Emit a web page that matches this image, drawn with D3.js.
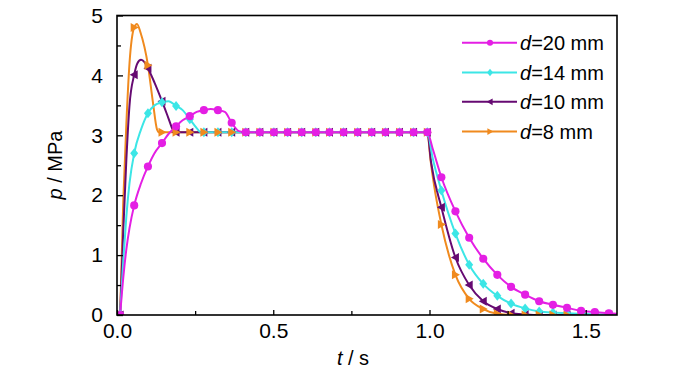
<!DOCTYPE html>
<html>
<head>
<meta charset="utf-8">
<script src="https://cdn.jsdelivr.net/npm/d3@7"></script>
<style>
  html, body { margin: 0; padding: 0; background: #fff; }
  svg { display: block; }
  text { font-family: "Liberation Sans", Arial, sans-serif; fill: #000; }
</style>
</head>
<body>
<div id="chart"></div>
<script>
// ---------------- data ----------------
const xTicks = [0.0, 0.5, 1.0, 1.5];
const xTickLabels = ["0.0", "0.5", "1.0", "1.5"];
const yTicks = [0, 1, 2, 3, 4, 5];
const yTickLabels = ["0", "1", "2", "3", "4", "5"];

const seriesLabels = ["20", "14", "10", "8"];
const seriesColors = ["#E41FE4", "#3CE6E6", "#660A72", "#F08A1E"];
const seriesMarkers = ["circle", "diamond", "triLeft", "triRight"];

// times at which markers are drawn (s)
const markerTimes = [0.010, 0.055, 0.099, 0.144, 0.189, 0.233, 0.278, 0.323, 0.367, 0.412,
  0.457, 0.502, 0.546, 0.591, 0.636, 0.680, 0.725, 0.770, 0.815, 0.859,
  0.904, 0.949, 0.993, 1.038, 1.083, 1.127, 1.172, 1.217, 1.261, 1.306,
  1.351, 1.395, 1.440, 1.485, 1.529, 1.574];

// pressure (MPa) at marker times
const pD20 = [0, 1.83, 2.48, 2.87, 3.15, 3.32, 3.42, 3.42, 3.21, 3.05,
  3.05, 3.05, 3.05, 3.05, 3.05, 3.05, 3.05, 3.05, 3.05, 3.05,
  3.05, 3.05, 3.05, 2.30, 1.73, 1.29, 0.94, 0.67, 0.47, 0.34,
  0.23, 0.17, 0.12, 0.07, 0.05, 0.03];
const pD14 = [0, 2.70, 3.37, 3.55, 3.49, 3.27, 3.05, 3.05, 3.05, 3.05,
  3.05, 3.05, 3.05, 3.05, 3.05, 3.05, 3.05, 3.05, 3.05, 3.05,
  3.05, 3.05, 3.05, 2.08, 1.36, 0.84, 0.52, 0.32, 0.19, 0.11,
  0.06, 0.04, 0.03, 0.02, 0.01, 0.01];
const pD10 = [0, 4.01, 4.12, 3.57, 3.05, 3.05, 3.05, 3.05, 3.05, 3.05,
  3.05, 3.05, 3.05, 3.05, 3.05, 3.05, 3.05, 3.05, 3.05, 3.05,
  3.05, 3.05, 3.05, 1.80, 0.96, 0.50, 0.23, 0.10, 0.03, 0.01,
  0, 0, 0, 0, 0, 0];
const pD8 = [0, 4.80, 4.17, 3.05, 3.05, 3.05, 3.05, 3.05, 3.05, 3.05,
  3.05, 3.05, 3.05, 3.05, 3.05, 3.05, 3.05, 3.05, 3.05, 3.05,
  3.05, 3.05, 3.05, 1.51, 0.67, 0.27, 0.10, 0.02, 0,
  0, 0, 0, 0, 0, 0, 0];

// additional curve points between markers [t, p]
const extraD20 = [[0.02, 0.62], [0.03, 1.1], [0.04, 1.45], [0.077, 2.2], [0.12, 2.7],
  [0.166, 3.03], [0.21, 3.25], [0.255, 3.39], [0.30, 3.44], [0.345, 3.39],
  [0.39, 3.07], [1.01, 2.78], [1.6, 0.02]];
const extraD14 = [[0.02, 0.9], [0.03, 1.65], [0.04, 2.2], [0.077, 3.1], [0.12, 3.5],
  [0.165, 3.57], [0.21, 3.42], [0.255, 3.12], [0.268, 3.05], [1.01, 2.62], [1.6, 0.01]];
const extraD10 = [[0.02, 1.4], [0.03, 2.6], [0.04, 3.5], [0.065, 4.2], [0.077, 4.26],
  [0.088, 4.22], [0.12, 3.88], [0.165, 3.28], [0.178, 3.1], [1.005, 2.55], [1.6, 0]];
const extraD8 = [[0.02, 1.9], [0.03, 3.2], [0.04, 4.2], [0.064, 4.86], [0.075, 4.72],
  [0.115, 3.55], [0.128, 3.1], [0.135, 3.05], [1.003, 2.6], [1.015, 2.15], [1.6, 0]];

const markerValues = [pD20, pD14, pD10, pD8];
const extraPoints = [extraD20, extraD14, extraD10, extraD8];

// ---------------- chart ----------------
const W = 700, H = 375;
const svg = d3.select("#chart").append("svg").attr("width", W).attr("height", H);

const x = d3.scaleLinear().domain([0, 1.6]).range([117, 617]);
const y = d3.scaleLinear().domain([0, 5]).range([315, 15.5]);

const series = seriesLabels.map((lab, i) => {
  const marks = markerTimes.map((t, k) => [t, markerValues[i][k]]);
  const line = marks.concat(extraPoints[i]).sort((a, b) => a[0] - b[0]);
  return { label: lab, color: seriesColors[i], marker: seriesMarkers[i], marks, line };
});

svg.append("defs").append("clipPath").attr("id", "clip")
  .append("rect").attr("x", x(0)).attr("y", y(5.0)).attr("width", x(1.6) - x(0)).attr("height", y(0) - y(5));

const lineGen = d3.line().x(d => x(d[0])).y(d => y(d[1])).curve(d3.curveMonotoneX);

function markerPath(type) {
  if (type === "circle") return d3.symbol().type(d3.symbolCircle).size(52)();
  if (type === "diamond") return "M0,-5L4,0L0,5L-4,0Z";
  if (type === "triLeft") return "M-4.5,0L3.5,-4.5L3.5,4.5Z";
  return "M4.5,0L-3.5,-4.5L-3.5,4.5Z";
}

const plot = svg.append("g").attr("clip-path", "url(#clip)");
// lines: orange first, magenta last
[3, 2, 1, 0].forEach(i => {
  const s = series[i];
  plot.append("path").datum(s.line)
    .attr("d", lineGen).attr("fill", "none")
    .attr("stroke", s.color).attr("stroke-width", 2);
});
// markers
[2, 1, 3, 0].forEach(i => {
  const s = series[i];
  plot.append("g").selectAll("path").data(s.marks).join("path")
    .attr("transform", d => `translate(${x(d[0])},${y(d[1])})`)
    .attr("d", markerPath(s.marker))
    .attr("fill", s.color);
});

// axes (ticks inside)
const axisColor = "#000";
const xAxis = d3.axisBottom(x).tickValues(xTicks).tickFormat((d, i) => xTickLabels[i])
  .tickSizeInner(-5).tickSizeOuter(0).tickPadding(10);
const gx = svg.append("g").attr("transform", `translate(0,${y(0)})`).call(xAxis);
gx.select(".domain").remove();
gx.selectAll("text").attr("font-size", 21).attr("font-family", "Liberation Sans, Arial, sans-serif").attr("dy", "0.71em").attr("y", 8);
gx.selectAll("line").attr("stroke", axisColor).attr("stroke-width", 1.3);
const xMinor = d3.axisBottom(x).tickValues([0.25, 0.75, 1.25]).tickFormat("").tickSizeInner(-4).tickSizeOuter(0);
const gxm = svg.append("g").attr("transform", `translate(0,${y(0)})`).call(xMinor);
gxm.select(".domain").remove();
gxm.selectAll("line").attr("stroke", axisColor).attr("stroke-width", 1.3);

const yAxis = d3.axisLeft(y).tickValues(yTicks).tickFormat((d, i) => yTickLabels[i])
  .tickSizeInner(-6).tickSizeOuter(0).tickPadding(14);
const gy = svg.append("g").attr("transform", `translate(${x(0)},0)`).call(yAxis);
gy.select(".domain").remove();
gy.selectAll("text").attr("font-size", 21).attr("font-family", "Liberation Sans, Arial, sans-serif");
gy.selectAll("line").attr("stroke", axisColor).attr("stroke-width", 1.3);
const yMinor = d3.axisLeft(y).tickValues([0.5, 1.5, 2.5, 3.5, 4.5]).tickFormat("").tickSizeInner(-4).tickSizeOuter(0);
const gym = svg.append("g").attr("transform", `translate(${x(0)},0)`).call(yMinor);
gym.select(".domain").remove();
gym.selectAll("line").attr("stroke", axisColor).attr("stroke-width", 1.3);

// frame
svg.append("rect").attr("x", x(0)).attr("y", y(5)).attr("width", x(1.6) - x(0)).attr("height", y(0) - y(5))
  .attr("fill", "none").attr("stroke", "#000").attr("stroke-width", 1.6);

// axis titles
const xt = svg.append("text").attr("x", 353).attr("y", 365).attr("text-anchor", "middle").attr("font-size", 20);
xt.append("tspan").attr("font-style", "italic").text("t");
xt.append("tspan").text(" / s");

const yt = svg.append("text").attr("transform", "translate(62,165) rotate(-90)").attr("text-anchor", "middle").attr("font-size", 20);
yt.append("tspan").attr("font-style", "italic").text("p");
yt.append("tspan").text(" / MPa");

// legend
const legRows = [42.7, 72.5, 101.8, 131.5];
series.forEach((s, i) => {
  const g = svg.append("g").attr("transform", `translate(0,${legRows[i]})`);
  g.append("line").attr("x1", 462).attr("x2", 517).attr("y1", 0).attr("y2", 0)
    .attr("stroke", s.color).attr("stroke-width", 2);
  g.append("path").attr("transform", "translate(490,0) scale(0.75)").attr("d", markerPath(s.marker)).attr("fill", s.color);
  const t = g.append("text").attr("x", 520).attr("y", 7).attr("font-size", 20);
  t.append("tspan").attr("font-style", "italic").text("d");
  t.append("tspan").text("=" + s.label + " mm");
});
</script>
</body>
</html>
